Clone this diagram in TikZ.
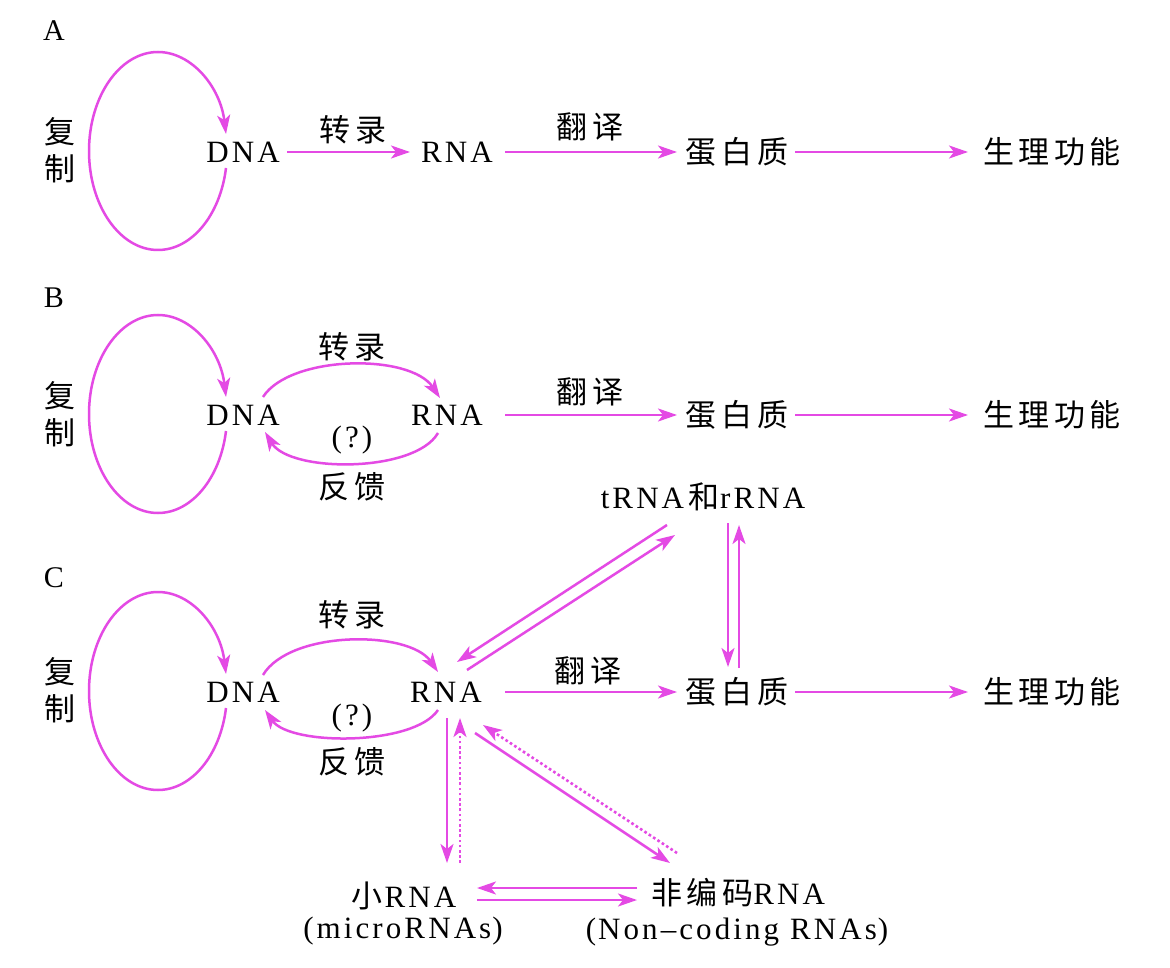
\documentclass[tikz,border=0pt]{standalone}
\usepackage{fontspec}
\setmainfont{Liberation Serif}[LetterSpace=10]
\newfontfamily\cjk{Noto Sans CJK SC}[LetterSpace=15]
\usetikzlibrary{arrows.meta}
\definecolor{mag}{RGB}{228,74,228}
\newcommand\ReplLoop[1]{%
  \draw[arr] ([shift={(-17,16)}]#1.center)
    .. controls ([shift={(-22.8,63.3)}]#1.center) and ([shift={(-51.5,98)}]#1.center) .. ([shift={(-85,98)}]#1.center)
    .. controls ([shift={(-123.1,98)}]#1.center) and ([shift={(-154,53.7)}]#1.center) .. ([shift={(-154,-1)}]#1.center)
    .. controls ([shift={(-154,-55.7)}]#1.center) and ([shift={(-123.1,-100)}]#1.center) .. ([shift={(-85,-100)}]#1.center)
    .. controls ([shift={(-51.5,-100)}]#1.center) and ([shift={(-22.8,-65.3)}]#1.center) .. ([shift={(-17,-18)}]#1.center);}
\begin{document}
\begin{tikzpicture}[x=1pt,y=-1pt,
  arr/.style={draw=mag, line width=2.5pt, -{Stealth[length=19pt,width=13pt,inset=5pt]}},
  dotarr/.style={arr, line width=2.6pt, dash pattern=on 2.6pt off 2.6pt},
  lbl/.style={inner sep=0pt, font=\fontsize{31}{37}\selectfont},
  zh/.style={inner sep=0pt, font=\fontsize{31}{37}\selectfont\cjk},
  side/.style={inner sep=0pt, align=center, font=\fontsize{31}{37}\selectfont\cjk},
  panel/.style={inner sep=0pt, font=\fontsize{30}{36}\selectfont}]
\path[use as bounding box, fill=white] (0,0) rectangle (1170,968);

% panel letters
\node[panel] (pa) at (54,31) {A};
\node[panel] (pb) at (54,298) {B};
\node[panel] (pc) at (54,578) {C};

% ---------- Row A ----------
\node[side] (repA) at (60,150) {复\\制};
\node[lbl] (dnaA) at (243,152) {DNA};
\node[lbl] (rnaA) at (457,152) {RNA};
\node[zh] (protA) at (737,152) {蛋白质};
\node[zh] (funcA) at (1052,152) {生理功能};
\node[zh] (trA) at (353,130) {转录};
\node[zh] (tlA) at (590,127) {翻译};
\ReplLoop{dnaA}
\draw[arr] ([shift={(44,0)}]dnaA.center) -- ([shift={(-47,0)}]rnaA.center);
\draw[arr] ([shift={(48,0)}]rnaA.center) -- ([shift={(-60,0)}]protA.center);
\draw[arr] ([shift={(58,0)}]protA.center) -- ([shift={(-84,0)}]funcA.center);

% ---------- Row B ----------
\node[side] (repB) at (60,414) {复\\制};
\node[lbl] (dnaB) at (243,415) {DNA};
\node[lbl] (rnaB) at (447,415) {RNA};
\node[zh] (protB) at (737,415) {蛋白质};
\node[zh] (funcB) at (1052,415) {生理功能};
\node[zh] (trB) at (352,347) {转录};
\node[lbl] (qB) at (352,440) {(?)};
\node[zh] (fbB) at (352,487) {反馈};
\node[zh] (tlB) at (590,392) {翻译};
\ReplLoop{dnaB}
\draw[arr] ([shift={(20,-18)}]dnaB.center) .. controls ([shift={(47,-60)}]dnaB.center) and ([shift={(-37,-62)}]rnaB.center) .. ([shift={(-7,-17)}]rnaB.center);
\draw[arr] ([shift={(-9,18)}]rnaB.center) .. controls ([shift={(-32,58)}]rnaB.center) and ([shift={(47,58)}]dnaB.center) .. ([shift={(22,17)}]dnaB.center);
\draw[arr] ([shift={(58,0)}]rnaB.center) -- ([shift={(-60,0)}]protB.center);
\draw[arr] ([shift={(58,0)}]protB.center) -- ([shift={(-84,0)}]funcB.center);

% ---------- Row C ----------
\node[side] (repC) at (60,690) {复\\制};
\node[lbl] (dnaC) at (243,692) {DNA};
\node[lbl] (rnaC) at (446,692) {RNA};
\node[zh] (protC) at (737,692) {蛋白质};
\node[zh] (funcC) at (1052,692) {生理功能};
\node[zh] (trC) at (352,615) {转录};
\node[lbl] (qC) at (352,718) {(?)};
\node[zh] (fbC) at (352,762) {反馈};
\node[zh] (tlC) at (588,671) {翻译};
\node[lbl] (trna) at (703,497) {tRNA\hspace{4pt}{\cjk 和}\hspace{1pt}rRNA};
\node[lbl] (small) at (404,896) {{\cjk 小}\hspace{2pt}RNA};
\node[lbl] (smallsub) at (403,931) {(\hspace{3pt}microRNAs\hspace{1pt})};
\node[lbl] (ncrna) at (738,893) {{\cjk 非编码}RNA};
\node[lbl] (ncrnasub) at (737,932) {(\hspace{2pt}Non–coding RNAs\hspace{1pt})};
\ReplLoop{dnaC}
\draw[arr] ([shift={(20,-17)}]dnaC.center) .. controls ([shift={(47,-62)}]dnaC.center) and ([shift={(-37,-62)}]rnaC.center) .. ([shift={(-8,-20)}]rnaC.center);
\draw[arr] ([shift={(-8,18)}]rnaC.center) .. controls ([shift={(-32,54)}]rnaC.center) and ([shift={(47,54)}]dnaC.center) .. ([shift={(22,18)}]dnaC.center);
\draw[arr] ([shift={(59,0)}]rnaC.center) -- ([shift={(-60,0)}]protC.center);
\draw[arr] ([shift={(58,0)}]protC.center) -- ([shift={(-84,0)}]funcC.center);
% RNA <-> tRNA/rRNA
\draw[arr] ([shift={(-36,28)}]trna.center) -- ([shift={(11,-30)}]rnaC.center);
\draw[arr] ([shift={(21,-22)}]rnaC.center) -- ([shift={(-28,38)}]trna.center);
% tRNA/rRNA <-> protein
\draw[arr] ([shift={(25,26)}]trna.center) -- ([shift={(-9,-25)}]protC.center);
\draw[arr] ([shift={(2,-24)}]protC.center) -- ([shift={(36,28)}]trna.center);
% RNA <-> small RNA
\draw[arr] ([shift={(1,26)}]rnaC.center) -- ([shift={(43,-33)}]small.center);
\draw[dotarr] ([shift={(56,-33)}]small.center) -- ([shift={(14,26)}]rnaC.center);
% RNA <-> non-coding RNA
\draw[arr] ([shift={(29,41)}]rnaC.center) -- ([shift={(-68,-30)}]ncrna.center);
\draw[dotarr] ([shift={(-61,-40)}]ncrna.center) -- ([shift={(37,33)}]rnaC.center);
% small RNA <-> non-coding RNA
\draw[arr] ([shift={(-101,-5)}]ncrna.center) -- ([shift={(73,-8)}]small.center);
\draw[arr] ([shift={(73,4)}]small.center) -- ([shift={(-101,7)}]ncrna.center);
\end{tikzpicture}
\end{document}
